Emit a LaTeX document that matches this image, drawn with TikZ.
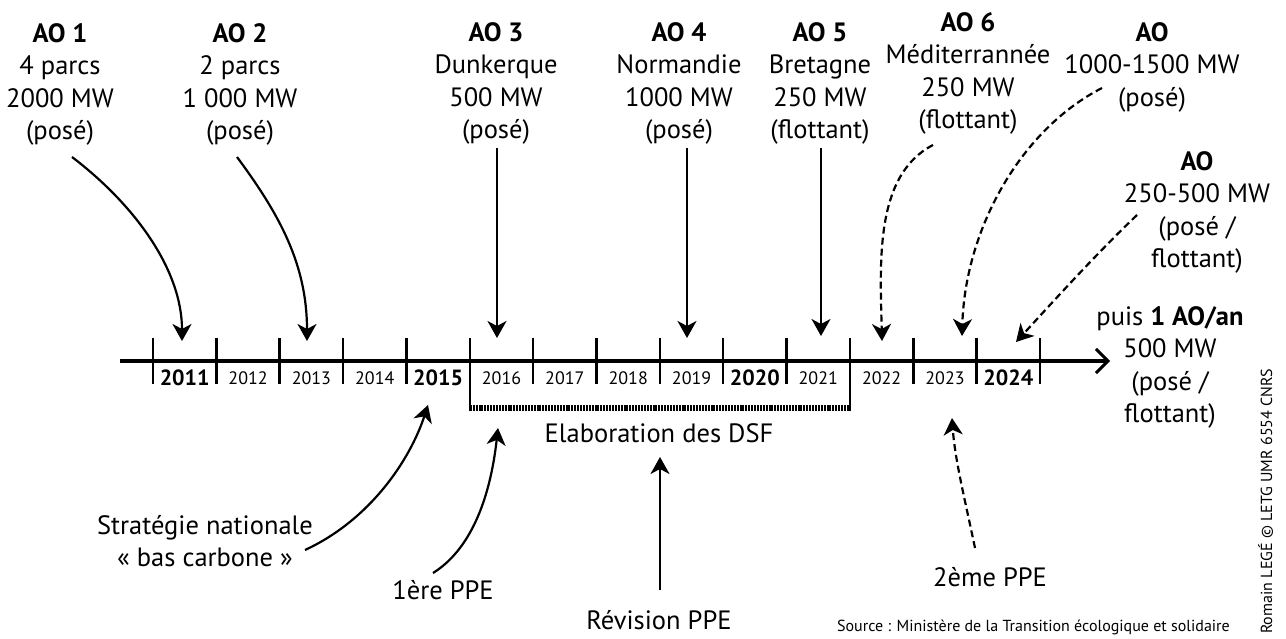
\documentclass[tikz,border=0pt]{standalone}
\usepackage{fontspec}
\setmainfont{PT Sans}
\usetikzlibrary{arrows.meta}
\begin{document}
\begin{tikzpicture}[x=1pt,y=-1pt,
  lbl/.style={align=center, inner sep=0pt, font=\fontsize{26.5}{32.5}\selectfont},
  yr/.style={inner sep=0pt, font=\fontsize{18}{20}\selectfont},
  yrb/.style={inner sep=0pt, font=\fontsize{22}{24}\selectfont\bfseries},
  small/.style={inner sep=0pt, font=\fontsize{16}{18}\selectfont},
  arr/.style={line width=2.2pt, -{Stealth[length=17pt,width=19pt,inset=5pt]}},
  darr/.style={arr, dash pattern=on 7pt off 4pt},
  tickline/.style={line width=2.5pt},
  hatch/.style={line width=6pt, dash pattern=on 2pt off 0.9pt},
]
\useasboundingbox (0,0) rectangle (1286,639);

% axis
\coordinate (ax0) at (120,361);
\coordinate (ax1) at (1110,361);
\draw[line width=3.2pt, -{Straight Barb[length=12pt,width=24pt,line width=3pt]}] (ax0) -- (ax1);
\foreach \i in {0,...,14}
  \draw[tickline] ({153+63.36*\i},338) -- ({153+63.36*\i},384);
\foreach \i/\y in {1/2012,2/2013,3/2014,5/2016,6/2017,7/2018,8/2019,10/2021,11/2022,12/2023}
  \node[yr] (y\y) at ({184.7+63.36*\i},378) {\y};
\foreach \i/\y in {0/2011,4/2015,9/2020,13/2024}
  \node[yrb] (y\y) at ({184.7+63.36*\i},378) {\y};

% bracket DSF
\draw[tickline] (469.8,338) -- (469.8,411);
\draw[tickline] (850.2,338) -- (850.2,411);
\draw[hatch] (469.8,408) -- (850.2,408);
\node[lbl] (dsf) at (659,433) {Elaboration des DSF};

% top labels
\node[lbl, anchor=north] (ao1) at (60,23) {\textbf{AO 1}\\4 parcs\\2000 MW\\(posé)};
\node[lbl, anchor=north] (ao2) at (240,23) {\textbf{AO 2}\\2 parcs\\1 000 MW\\(posé)};
\node[lbl, anchor=north] (ao3) at (496,22) {\textbf{AO 3}\\Dunkerque\\500 MW\\(posé)};
\node[lbl, anchor=north] (ao4) at (679,22) {\textbf{AO 4}\\Normandie\\1000 MW\\(posé)};
\node[lbl, anchor=north] (ao5) at (820,22) {\textbf{AO 5}\\Bretagne\\250 MW\\(flottant)};
\node[lbl, anchor=north] (ao6) at (968,12) {\textbf{AO 6}\\Méditerrannée\\250 MW\\(flottant)};
\node[lbl, anchor=north] (ao7) at (1152,22) {\textbf{AO}\\1000-1500 MW\\(posé)};
\node[lbl, anchor=north] (ao8) at (1197,151) {\textbf{AO}\\250-500 MW\\(posé /\\flottant)};
\node[lbl, anchor=north] (ao9) at (1170,306) {puis \textbf{1 AO/an}\\500 MW\\(posé /\\flottant)};

% bottom labels
\node[lbl] (snbc) at (205,541) {Stratégie nationale\\« bas carbone »};
\node[lbl] (ppe1) at (443,590) {1ère PPE};
\node[lbl] (rppe) at (659,620) {Révision PPE};
\node[lbl] (ppe2) at (990,577) {2ème PPE};
\node[small, anchor=east] (src) at (1230,627) {Source : Ministère de la Transition écologique et solidaire};
\node[small, rotate=90, anchor=base west] (cred) at (1272,634) {Romain LEGÉ © LETG UMR 6554 CNRS};

% arrow endpoints
\coordinate (s1) at (72,157);   \coordinate (t1) at (182,341);
\coordinate (s2) at (237,157);  \coordinate (t2) at (307,341);
\coordinate (s3) at (497,148);  \coordinate (t3) at (497,338);
\coordinate (s4) at (687,148);  \coordinate (t4) at (687,338);
\coordinate (s5) at (821,148);  \coordinate (t5) at (821,336);
\coordinate (s6) at (933,145);  \coordinate (t6) at (882,341);
\coordinate (s7) at (1102,88);  \coordinate (t7) at (962,336);
\coordinate (s8) at (1137,215); \coordinate (t8) at (1016,342);
\coordinate (s9) at (305,550);  \coordinate (t9) at (428,405);
\coordinate (s10) at (433,573); \coordinate (t10) at (498,428);
\coordinate (s11) at (660,590); \coordinate (t11) at (660,457);
\coordinate (s12) at (975,548); \coordinate (t12) at (952,418);

\draw[arr] (s1) .. controls (135,205) and (182,270) .. (t1);
\draw[arr] (s2) .. controls (280,215) and (307,265) .. (t2);
\draw[arr] (s3) -- (t3);
\draw[arr] (s4) -- (t4);
\draw[arr] (s5) -- (t5);
\draw[darr] (s6) .. controls (875,175) and (880,260) .. (t6);
\draw[darr] (s7) .. controls (1020,130) and (965,230) .. (t7);
\draw[darr] (s8) .. controls (1095,255) and (1050,305) .. (t8);
\draw[arr] (s9) .. controls (370,520) and (410,460) .. (t9);
\draw[arr] (s10) .. controls (470,550) and (490,500) .. (t10);
\draw[arr] (s11) -- (t11);
\draw[darr] (s12) .. controls (965,500) and (955,460) .. (t12);
\end{tikzpicture}
\end{document}
